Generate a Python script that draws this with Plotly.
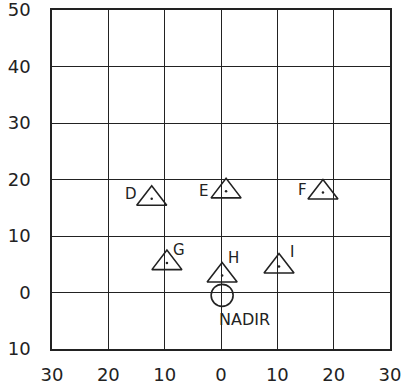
import plotly.graph_objects as go

# ---- data ----
station_names = ["D", "E", "F", "G", "H", "I"]
station_x = [-12.3, 0.9, 18.1, -9.6, 0.2, 10.3]
station_y = [16.6, 17.9, 17.7, 5.2, 3.0, 4.6]
nadir_name = ["NADIR"]
nadir_x = [0.2]
nadir_y = [-0.5]
x_tickvals = [-30, -20, -10, 0, 10, 20, 30]
x_ticktext = ["30", "20", "10", "0", "10", "20", "30"]
y_tickvals = [-10, 0, 10, 20, 30, 40, 50]
y_ticktext = ["10", "0", "10", "20", "30", "40", "50"]

# ---- style ----
INK = "#222222"
FONT = "DejaVu Sans"
label_shift = {  # pixel offsets of letters from their markers
    "D": (-21, 5), "E": (-23, 0), "F": (-20, 3),
    "G": (12, 13), "H": (11, 18), "I": (13, 15),
}

fig = go.Figure()
fig.add_trace(go.Scatter(
    x=station_x, y=station_y, mode="markers",
    marker=dict(symbol="triangle-up-open", size=26, color=INK,
                line=dict(width=1.6, color=INK)),
    hoverinfo="skip", showlegend=False))
fig.add_trace(go.Scatter(
    x=station_x, y=station_y, mode="markers",
    marker=dict(symbol="circle", size=2.5, color=INK),
    hoverinfo="skip", showlegend=False))
fig.add_trace(go.Scatter(
    x=nadir_x, y=nadir_y, mode="markers",
    marker=dict(symbol="circle-open", size=22, color=INK,
                line=dict(width=1.6, color=INK)),
    hoverinfo="skip", showlegend=False))

for n, xv, yv in zip(station_names, station_x, station_y):
    dx, dy = label_shift[n]
    fig.add_annotation(x=xv, y=yv, text=n, showarrow=False,
                       xshift=dx, yshift=dy,
                       font=dict(family=FONT, size=15, color=INK))
fig.add_annotation(x=nadir_x[0], y=nadir_y[0], text=nadir_name[0],
                   showarrow=False, xshift=22, yshift=-24,
                   font=dict(family=FONT, size=16, color=INK))

axis_common = dict(
    showgrid=True, gridcolor=INK, gridwidth=1.3,
    zeroline=True, zerolinecolor=INK, zerolinewidth=1.3,
    showline=True, linecolor=INK, linewidth=1.6, mirror=True,
    ticks="", tickfont=dict(family=FONT, size=18, color=INK),
    fixedrange=True, automargin=False, ticklabeloverflow="allow",
)
fig.update_xaxes(range=[-30, 30], tickvals=x_tickvals, ticktext=x_ticktext,
                 ticklabelstandoff=9, **axis_common)
fig.update_yaxes(range=[-10, 50], tickvals=y_tickvals, ticktext=y_ticktext,
                 ticklabelstandoff=16, **axis_common)

fig.update_layout(
    width=404, height=388,
    margin=dict(l=52, r=14, t=10, b=39, autoexpand=False),
    paper_bgcolor="white", plot_bgcolor="white",
    showlegend=False,
)

fig.write_html("out.html", config={"displayModeBar": False},
               post_script="document.body.style.margin='0';"
                           "document.body.style.overflow='hidden';")
